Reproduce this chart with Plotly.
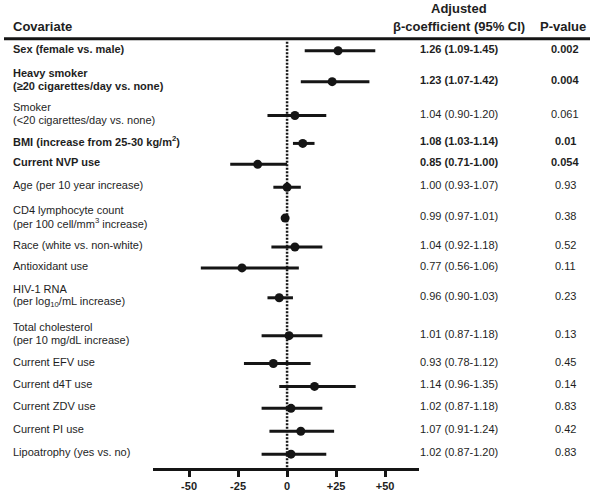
import plotly.graph_objects as go

# ---- data ----
covariates = [
    "Sex (female vs. male)",
    "Heavy smoker<br>(≥20 cigarettes/day vs. none)",
    "Smoker<br>(<20 cigarettes/day vs. none)",
    "BMI (increase from 25-30 kg/m<sup>2</sup>)",
    "Current NVP use",
    "Age (per 10 year increase)",
    "CD4 lymphocyte count<br>(per 100 cell/mm<sup>3</sup> increase)",
    "Race (white vs. non-white)",
    "Antioxidant use",
    "HIV-1 RNA<br>(per log<sub>10</sub>/mL increase)",
    "Total cholesterol<br>(per 10 mg/dL increase)",
    "Current EFV use",
    "Current d4T use",
    "Current ZDV use",
    "Current PI use",
    "Lipoatrophy (yes vs. no)",
]
coef = [1.26, 1.23, 1.04, 1.08, 0.85, 1.00, 0.99, 1.04, 0.77, 0.96, 1.01, 0.93, 1.14, 1.02, 1.07, 1.02]
ci_low = [1.09, 1.07, 0.90, 1.03, 0.71, 0.93, 0.97, 0.92, 0.56, 0.90, 0.87, 0.78, 0.96, 0.87, 0.91, 0.87]
ci_high = [1.45, 1.42, 1.20, 1.14, 1.00, 1.07, 1.01, 1.18, 1.06, 1.03, 1.18, 1.12, 1.35, 1.18, 1.24, 1.20]
p_values = ["0.002", "0.004", "0.061", "0.01", "0.054", "0.93", "0.38", "0.52",
            "0.11", "0.23", "0.13", "0.45", "0.14", "0.83", "0.42", "0.83"]
significant = [True, True, False, True, True, False, False, False,
               False, False, False, False, False, False, False, False]
tick_vals = [-50, -25, 0, 25, 50]
tick_text = ["-50", "-25", "0", "+25", "+50"]

# ---- layout (row positions in pixel units of the y axis) ----
row_pos = [51, 82, 116, 144, 165, 188, 219, 248, 269, 299, 337, 365, 388, 410, 433, 456]
W, H = 602, 492
FONT = "Liberation Sans, Arial, sans-serif"
TXT = "#1e1e1e"

pct = [(c - 1) * 100 for c in coef]
err_plus = [(h - c) * 100 for c, h in zip(coef, ci_high)]
err_minus = [(c - l) * 100 for c, l in zip(coef, ci_low)]

fig = go.Figure()
fig.add_trace(go.Scatter(
    x=pct, y=row_pos, mode="markers",
    marker=dict(size=9, color="#151515", symbol="circle"),
    error_x=dict(type="data", symmetric=False, array=err_plus, arrayminus=err_minus,
                 thickness=3, width=0, color="#151515"),
    hoverinfo="skip", showlegend=False,
))

ann = []
def add_text(text, x, y, bold=False, size=11, xanchor="left"):
    ann.append(dict(
        text=f"<b>{text}</b>" if bold else text,
        x=x / W, xref="paper", y=y, yref="y",
        xanchor=xanchor, yanchor="middle", showarrow=False,
        font=dict(family=FONT, size=size, color=TXT),
    ))

# headers
add_text("Covariate", 11, 27, bold=True, size=13)
add_text("Adjusted", 459, 9, bold=True, size=13, xanchor="center")
add_text("β-coefficient (95% CI)", 459, 27, bold=True, size=13, xanchor="center")
add_text("P-value", 563, 27, bold=True, size=13, xanchor="center")

for lab, c, lo, hi, p, sig, yp in zip(covariates, coef, ci_low, ci_high, p_values, significant, row_pos):
    yc = yp - 2
    lines = lab.split("<br>")
    if len(lines) == 1:
        add_text(lines[0], 11, yc, bold=sig)
    else:
        add_text(lines[0], 11, yc - 6.5, bold=sig)
        add_text(lines[1], 11, yc + 6.5, bold=sig)
    add_text(f"{c:.2f} ({lo:.2f}-{hi:.2f})", 459, yc, bold=sig, xanchor="center")
    add_text(p, 565, yc, bold=sig, xanchor="center")

shapes = [
    dict(type="line", xref="paper", yref="y", x0=4 / W, x1=590 / W, y0=39, y1=39,
         line=dict(color="#151515", width=3)),
    dict(type="line", xref="x", yref="y", x0=0, x1=0, y0=42, y1=470,
         line=dict(color="#151515", width=2.5, dash="2px,1.5px")),
]

fig.update_layout(
    width=W, height=H,
    margin=dict(l=0, r=0, t=0, b=0),
    paper_bgcolor="white", plot_bgcolor="white",
    annotations=ann, shapes=shapes,
    xaxis=dict(
        domain=[153 / W, 419 / W], range=[-68.4, 67.3],
        anchor="free", position=1 - 471 / H,
        showline=True, linewidth=3, linecolor="#151515",
        ticks="outside", ticklen=6, tickwidth=3, tickcolor="#151515",
        tickvals=tick_vals, ticktext=[f"<b>{t}</b>" for t in tick_text],
        tickfont=dict(family=FONT, size=11, color=TXT),
        showgrid=False, zeroline=False,
    ),
    yaxis=dict(domain=[0, 1], range=[H, 0], visible=False, showgrid=False, zeroline=False),
    font=dict(family=FONT),
)

fig.write_html(
    "out.html",
    config={"displayModeBar": False, "staticPlot": True},
    post_script="document.body.style.margin='0';document.body.style.padding='0';"
                "document.body.style.overflow='hidden';",
)
